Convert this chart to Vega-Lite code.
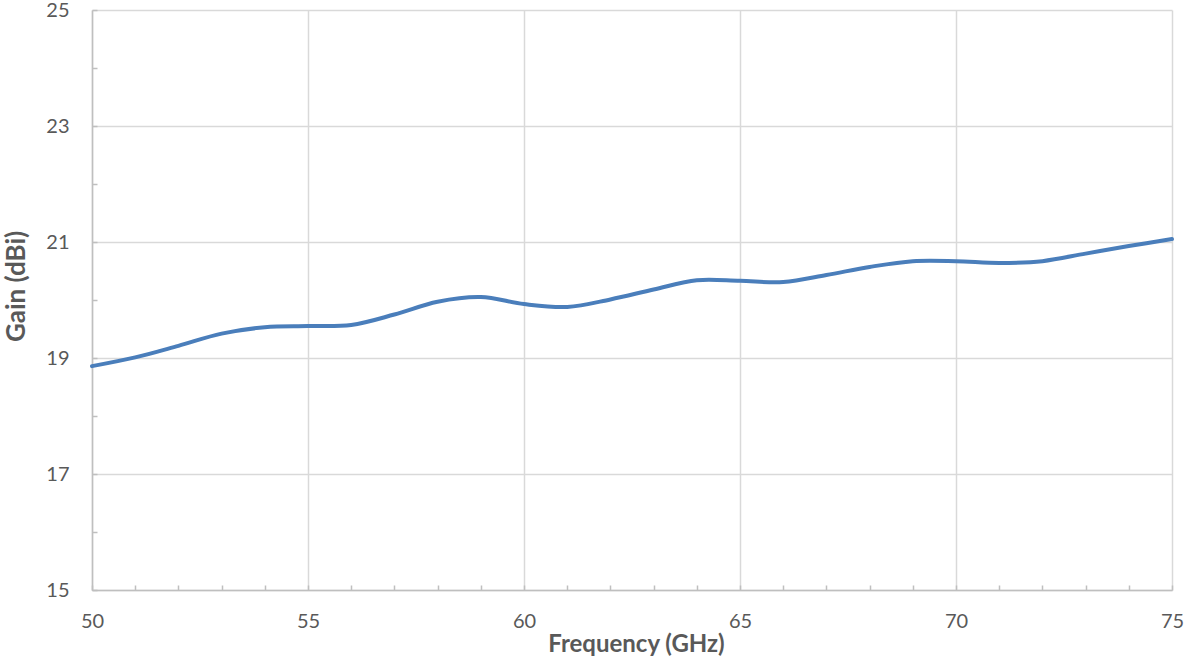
{
  "$schema": "https://vega.github.io/schema/vega-lite/v6.json",
  "width": 1080,
  "height": 580,
  "autosize": {"type": "none"},
  "padding": {"left": 92, "top": 10, "right": 13, "bottom": 67},
  "background": "white",
  "config": {"view": {"stroke": null}, "font": "Lato"},
  "data": {"values": [
    {"freq": 50, "gain": 18.86}, {"freq": 51, "gain": 19.01}, {"freq": 52, "gain": 19.21},
    {"freq": 53, "gain": 19.42}, {"freq": 54, "gain": 19.53}, {"freq": 55, "gain": 19.55},
    {"freq": 56, "gain": 19.57}, {"freq": 57, "gain": 19.75}, {"freq": 58, "gain": 19.97},
    {"freq": 59, "gain": 20.05}, {"freq": 60, "gain": 19.93}, {"freq": 61, "gain": 19.88},
    {"freq": 62, "gain": 20.01}, {"freq": 63, "gain": 20.18}, {"freq": 64, "gain": 20.34},
    {"freq": 65, "gain": 20.33}, {"freq": 66, "gain": 20.31}, {"freq": 67, "gain": 20.43},
    {"freq": 68, "gain": 20.57}, {"freq": 69, "gain": 20.67}, {"freq": 70, "gain": 20.67},
    {"freq": 71, "gain": 20.64}, {"freq": 72, "gain": 20.67}, {"freq": 73, "gain": 20.8},
    {"freq": 74, "gain": 20.93}, {"freq": 75, "gain": 21.05}
  ]},
  "mark": {"type": "line", "interpolate": "catmull-rom", "color": "#4a7ebb", "strokeWidth": 4, "strokeCap": "round"},
  "encoding": {
    "x": {
      "field": "freq", "type": "quantitative",
      "scale": {"domain": [50, 75], "nice": false, "zero": false},
      "axis": {
        "title": "Frequency (GHz)",
        "values": [50,51,52,53,54,55,56,57,58,59,60,61,62,63,64,65,66,67,68,69,70,71,72,73,74,75],
        "labelExpr": "datum.value % 5 === 0 ? datum.label : ''",
        "grid": true,
        "gridColor": "#d9d9d9",
        "gridWidth": 1.5,
        "gridOpacity": {"condition": {"test": "datum.value % 5 === 0", "value": 1}, "value": 0},
        "domainColor": "#bfbfbf",
        "domainWidth": 1.5,
        "tickColor": "#bfbfbf",
        "tickWidth": 1.5,
        "tickSize": -5,
        "labelPadding": 26,
        "labelFontSize": 20,
        "labelColor": "#595959",
        "labelFont": "Lato",
        "labelOverlap": false,
        "labelFlush": false,
        "titleFont": "Lato",
        "titleFontSize": 24,
        "titleFontWeight": "bold",
        "titleColor": "#595959",
        "titlePadding": 1,
        "titleX": 544
      }
    },
    "y": {
      "field": "gain", "type": "quantitative",
      "scale": {"domain": [15, 25], "nice": false, "zero": false},
      "axis": {
        "title": "Gain (dBi)",
        "values": [15,16,17,18,19,20,21,22,23,24,25],
        "labelExpr": "datum.value % 2 === 1 ? datum.label : ''",
        "grid": true,
        "gridColor": "#d9d9d9",
        "gridWidth": 1.5,
        "gridOpacity": {"condition": {"test": "datum.value % 2 === 1", "value": 1}, "value": 0},
        "domainColor": "#bfbfbf",
        "domainWidth": 1.5,
        "tickColor": "#bfbfbf",
        "tickWidth": 1.5,
        "tickSize": -5,
        "labelPadding": 28,
        "labelFontSize": 20,
        "labelColor": "#595959",
        "labelFont": "Lato",
        "labelOverlap": false,
        "labelFlush": false,
        "titleFont": "Lato",
        "titleFontSize": 26,
        "titleFontWeight": "bold",
        "titleColor": "#595959",
        "titlePadding": 16,
        "titleY": 276
      }
    }
  }
}
